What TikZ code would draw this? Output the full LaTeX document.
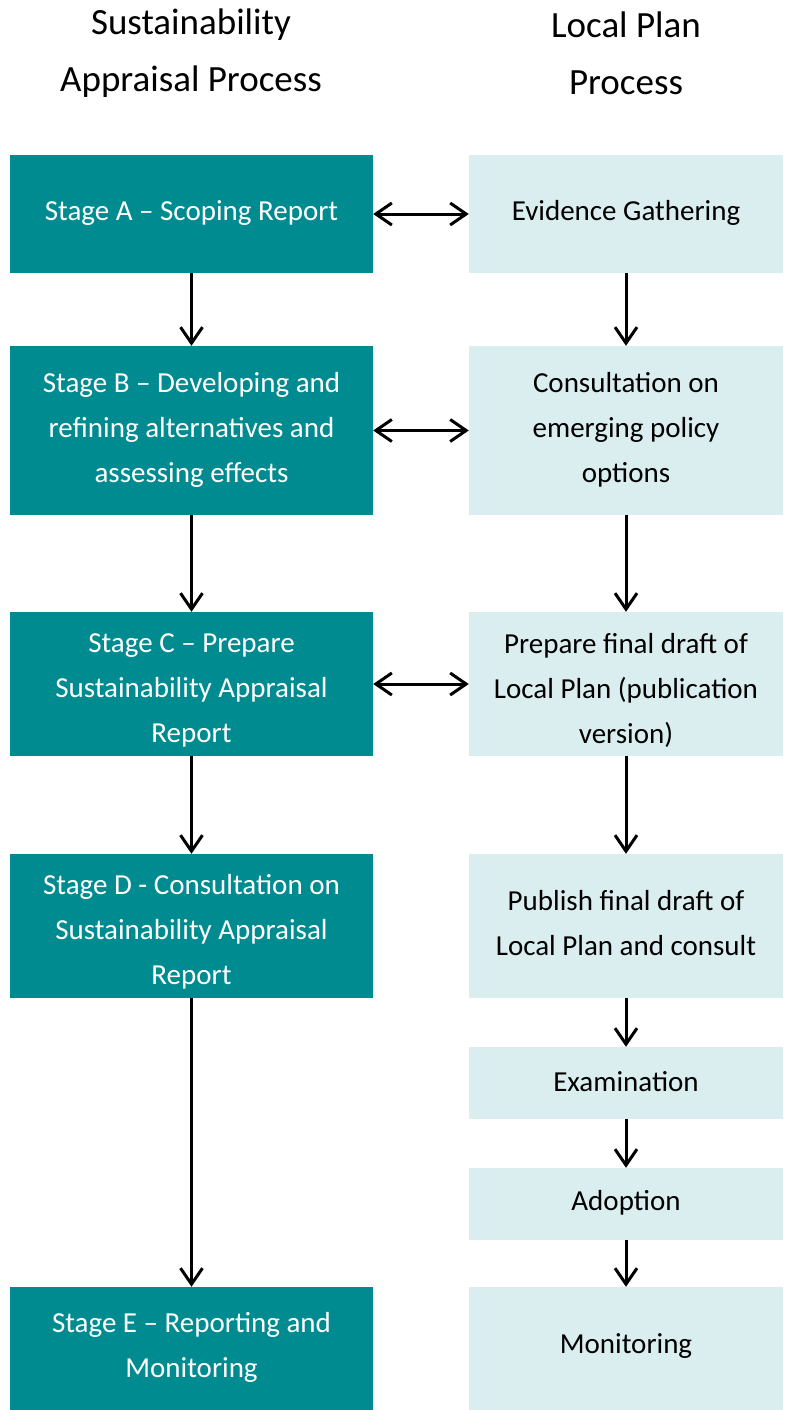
\documentclass[tikz,border=0pt]{standalone}
\usepackage{fontspec}
\setmainfont{Carlito}
\usetikzlibrary{arrows.meta}
\definecolor{teal1}{RGB}{0,139,145}
\definecolor{light1}{RGB}{218,238,240}
\begin{document}
\begin{tikzpicture}[x=1pt,y=-1pt,
  sabox/.style={fill=teal1,draw=none,inner sep=0pt},
  lpbox/.style={fill=light1,draw=none,inner sep=0pt},
  satext/.style={text=white,inner sep=0pt,align=center,font=\fontsize{29}{45}\selectfont},
  lptext/.style={text=black,inner sep=0pt,align=center,font=\fontsize{29}{45}\selectfont},
  head/.style={align=center,font=\fontsize{37}{57}\selectfont,inner sep=0pt},
  arr/.style={line width=3pt,-{Straight Barb[length=16pt,width=22pt,line width=3pt]}},
  darr/.style={line width=3pt,{Straight Barb[length=16pt,width=22pt,line width=3pt]}-{Straight Barb[length=16pt,width=22pt,line width=3pt]}}]
\useasboundingbox (0,0) rectangle (785,1410);
% headers
\node[head] (h1) at (191,53) {Sustainability\\Appraisal Process};
\node[head] (h2) at (626,53) {Local Plan\\Process};
% left column boxes
\node[sabox,minimum width=363pt,minimum height=118pt] (a) at (191.5,214) {};
\node[sabox,minimum width=363pt,minimum height=169pt] (b) at (191.5,430.5) {};
\node[sabox,minimum width=363pt,minimum height=144pt] (c) at (191.5,684) {};
\node[sabox,minimum width=363pt,minimum height=144pt] (d) at (191.5,926) {};
\node[sabox,minimum width=363pt,minimum height=123pt] (e) at (191.5,1348.5) {};
% left column texts
\node[satext] (at) at (191.5,213) {Stage A -- Scoping Report};
\node[satext] (bt) at (191.5,430) {Stage B -- Developing and\\refining alternatives and\\assessing effects};
\node[satext] (ct) at (191.5,690) {Stage C -- Prepare\\Sustainability Appraisal\\Report};
\node[satext] (dt) at (191.5,932) {Stage D - Consultation on\\Sustainability Appraisal\\Report};
\node[satext] (et) at (191.5,1347) {Stage E -- Reporting and\\Monitoring};
% right column boxes
\node[lpbox,minimum width=314pt,minimum height=118pt] (r1) at (626,214) {};
\node[lpbox,minimum width=314pt,minimum height=169pt] (r2) at (626,430.5) {};
\node[lpbox,minimum width=314pt,minimum height=144pt] (r3) at (626,684) {};
\node[lpbox,minimum width=314pt,minimum height=144pt] (r4) at (626,926) {};
\node[lpbox,minimum width=314pt,minimum height=72pt] (r5) at (626,1083) {};
\node[lpbox,minimum width=314pt,minimum height=72pt] (r6) at (626,1204) {};
\node[lpbox,minimum width=314pt,minimum height=123pt] (r7) at (626,1348.5) {};
% right column texts
\node[lptext] (r1t) at (626,213) {Evidence Gathering};
\node[lptext] (r2t) at (626,430) {Consultation on\\emerging policy\\options};
\node[lptext] (r3t) at (626,690) {Prepare final draft of\\Local Plan (publication\\version)};
\node[lptext] (r4t) at (626,923) {Publish final draft of\\Local Plan and consult};
\node[lptext] (r5t) at (626,1082) {Examination};
\node[lptext] (r6t) at (626,1203) {Adoption};
\node[lptext] (r7t) at (626,1346) {Monitoring};
% vertical arrows
\draw[arr] (a.south) -- (b.north);
\draw[arr] (b.south) -- (c.north);
\draw[arr] (c.south) -- (d.north);
\draw[arr] (d.south) -- (e.north);
\draw[arr] (r1.south) -- (r2.north);
\draw[arr] (r2.south) -- (r3.north);
\draw[arr] (r3.south) -- (r4.north);
\draw[arr] (r4.south) -- (r5.north);
\draw[arr] (r5.south) -- (r6.north);
\draw[arr] (r6.south) -- (r7.north);
% horizontal arrows
\draw[darr] (a.east) -- (r1.west);
\draw[darr] (b.east) -- (r2.west);
\draw[darr] (c.east) -- (r3.west);
\end{tikzpicture}
\end{document}
